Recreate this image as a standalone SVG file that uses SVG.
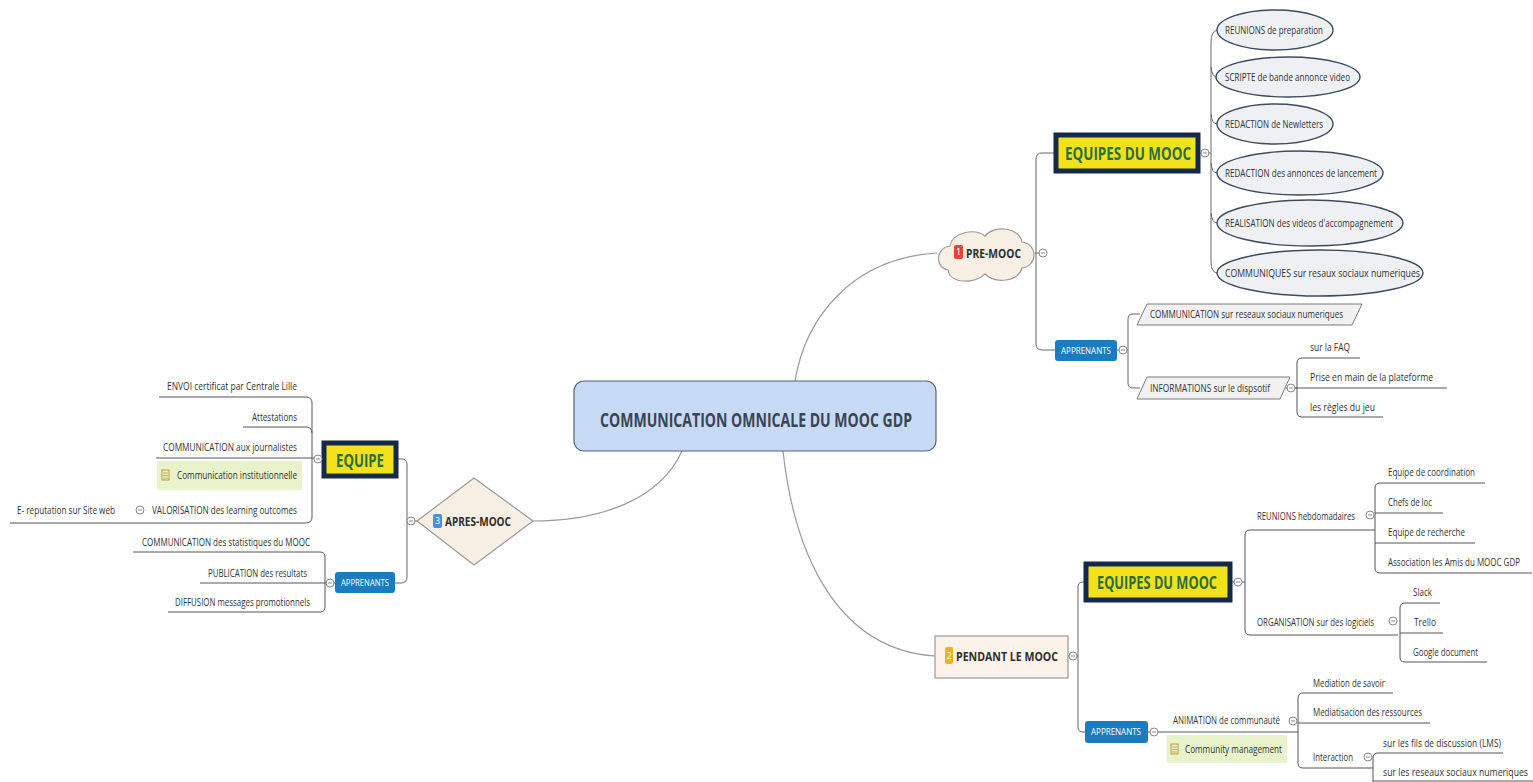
<svg xmlns="http://www.w3.org/2000/svg" width="1533" height="782" viewBox="0 0 1533 782">
<defs>
<style>
.t{font-family:"Open Sans","Liberation Sans",sans-serif;font-size:11.5px;fill:#333;}
.te{text-anchor:end;}
.h{font-family:"Open Sans","Liberation Sans",sans-serif;font-weight:bold;}
.conn{fill:none;stroke:#9a9a9a;stroke-width:1.2;}
.br{fill:none;stroke:#666;stroke-width:1;}
.ul{fill:none;stroke:#555;stroke-width:1;}
.ell{fill:#eef0f3;stroke:#3d4b5c;stroke-width:1.4;}
.par{fill:#f1f1f1;stroke:#7a7a7a;stroke-width:1;}
.yel{fill:#f3e21b;stroke:#15294a;stroke-width:5;}
.yt{fill:#2b6e44;font-size:18px;text-anchor:middle;}
.blue{fill:#1b7cc1;}
.bt{fill:#fff;font-size:9px;text-anchor:middle;font-family:"Open Sans","Liberation Sans",sans-serif;}
.note{fill:#e8f3cc;}
.beige{fill:#f8efe4;stroke:#9a9a9a;stroke-width:1.2;}
.dark{fill:#2e2e2e;font-size:12px;}
.col{fill:#fff;stroke:#888;stroke-width:1;}
</style>
<g id="collapse"><circle class="col" cx="0" cy="0" r="4"/><path d="M-2 0H2" stroke="#888" stroke-width="1"/></g>
<g id="noteicon"><rect x="0" y="0" width="7" height="10" fill="none" stroke="#c89a2e" stroke-width="1"/><path d="M1 3H6M1 5.5H6M1 8H6" stroke="#c89a2e" stroke-width="0.8"/></g>
</defs>
<rect width="1533" height="782" fill="#fff"/>

<g id="connectors">
<path class="conn" d="M795 381 C805 320 850 258 937 253"/>
<path class="conn" d="M682 451 C660 500 600 521 533 521"/>
<path class="conn" d="M783 451 C795 560 840 650 935 656"/>
<path class="br" d="M1054 153 H1042 Q1036 153 1036 159 V344 Q1036 350 1042 350 H1055"/>
<path class="br" d="M1035 253 H1039"/>
<path class="br" d="M1200 153 H1211"/>
<path class="br" d="M1217 30 Q1211 32 1211 42 V262 Q1211 272 1217 273"/>
<path class="br" d="M1211 67 Q1212 77 1217 77 M1211 114 Q1212 124 1217 124 M1211 163 Q1212 173 1217 173 M1211 213 Q1212 223 1217 223"/>
<path class="br" d="M1117 350 H1128"/>
<path class="br" d="M1140 314 H1133 Q1128 314 1128 319 V383 Q1128 388 1133 388 H1140"/>
<path class="br" d="M1282 388 H1297"/>
<path class="ul" d="M1360 358 H1302 Q1297 358 1297 363 V412 Q1297 417 1302 417 H1383"/>
<path class="ul" d="M1295 388 H1447"/>
<path class="ul" d="M159 397 H306 Q312 397 312 403 V517 Q312 523 306 523 H10"/>
<path class="ul" d="M243 427 H306 Q312 427 312 433"/>
<path class="ul" d="M156 458 H322"/>
<path class="br" d="M398 459 H402 Q407 459 407 465 V577 Q407 583 401 583 H395"/>
<path class="br" d="M407 521 H417"/>
<path class="ul" d="M133 552 H320 Q325 552 325 557 V607 Q325 612 320 612 H168"/>
<path class="ul" d="M200 583 H335"/>
<path class="br" d="M1068 656 H1078"/>
<path class="br" d="M1085 582 H1083 Q1078 582 1078 587 V727 Q1078 732 1083 732 H1085"/>
<path class="br" d="M1231 582 H1245"/>
<path class="ul" d="M1375 530 H1250 Q1245 530 1245 535 V630 Q1245 635 1250 635 H1398"/>
<path class="ul" d="M1485 483 H1380 Q1375 483 1375 488 V568 Q1375 573 1380 573 H1532"/>
<path class="ul" d="M1375 513 H1443 M1375 543 H1475"/>
<path class="ul" d="M1440 603 H1405 Q1400 603 1400 608 V657 Q1400 662 1405 662 H1487"/>
<path class="ul" d="M1400 633 H1443"/>
<path class="ul" d="M1148 732 H1298"/>
<path class="ul" d="M1393 693 H1303 Q1298 693 1298 698 V763 Q1298 768 1303 768 H1373"/>
<path class="ul" d="M1298 723 H1430"/>
<path class="ul" d="M1503 753 H1378 Q1373 753 1373 758 V782"/>
<path class="ul" d="M1373 781 H1533"/>
</g>

<g id="center">
<rect x="574" y="381" width="362" height="70" rx="10" fill="#c6daf6" stroke="#55657a" stroke-width="1.2"/>
<text class="h" x="756" y="427" font-size="19" fill="#3b4453" text-anchor="middle" textLength="312" lengthAdjust="spacingAndGlyphs">COMMUNICATION OMNICALE DU  MOOC GDP</text>
</g>

<g id="pre-mooc">
<path class="beige" d="M948 270 C935 268 935 248 950 246 C952 232 975 228 985 236 C995 224 1020 228 1022 242 C1038 244 1038 266 1022 268 C1018 282 995 284 985 274 C975 284 950 284 948 270 Z"/>
<rect x="954" y="245" width="9" height="14" rx="2" fill="#e0463c"/>
<text class="bt" x="958.5" y="255" font-size="8">1</text>
<text class="h dark" x="966" y="258" textLength="55" lengthAdjust="spacingAndGlyphs">PRE-MOOC</text>
<use href="#collapse" x="1043" y="253"/>
</g>

<g id="equipes-pre">
<rect class="yel" x="1056" y="135" width="142" height="36"/>
<text class="h yt" x="1128" y="160" textLength="126" lengthAdjust="spacingAndGlyphs">EQUIPES DU MOOC</text>
<use href="#collapse" x="1205" y="153"/>
</g>

<g id="ellipses-pre">
<ellipse class="ell" cx="1275" cy="30" rx="58" ry="20"/>
<text class="t" x="1225" y="34" textLength="98" lengthAdjust="spacingAndGlyphs">REUNIONS de  preparation</text>
<ellipse class="ell" cx="1288" cy="77" rx="72" ry="20"/>
<text class="t" x="1225" y="81" textLength="125" lengthAdjust="spacingAndGlyphs">SCRIPTE de bande annonce  video</text>
<ellipse class="ell" cx="1275" cy="124" rx="58" ry="20"/>
<text class="t" x="1225" y="128" textLength="98" lengthAdjust="spacingAndGlyphs">REDACTION de Newletters</text>
<ellipse class="ell" cx="1300" cy="173" rx="83" ry="22"/>
<text class="t" x="1225" y="177" textLength="152" lengthAdjust="spacingAndGlyphs">REDACTION des annonces de  lancement</text>
<ellipse class="ell" cx="1310" cy="223" rx="93" ry="23"/>
<text class="t" x="1225" y="227" textLength="168" lengthAdjust="spacingAndGlyphs">REALISATION des videos d'accompagnement</text>
<ellipse class="ell" cx="1320" cy="273" rx="103" ry="23"/>
<text class="t" x="1225" y="277" textLength="195" lengthAdjust="spacingAndGlyphs">COMMUNIQUES  sur resaux sociaux numeriques</text>
</g>

<g id="apprenants-pre">
<rect class="blue" x="1055" y="340" width="62" height="21" rx="3"/>
<text class="bt" x="1086" y="354" textLength="50" lengthAdjust="spacingAndGlyphs">APPRENANTS</text>
<use href="#collapse" x="1123" y="350"/>
<path class="par" d="M1147 304 H1362 L1352 325 H1137 Z"/>
<text class="t" x="1150" y="318" textLength="193" lengthAdjust="spacingAndGlyphs">COMMUNICATION sur  reseaux sociaux  numeriques</text>
<path class="par" d="M1147 377 H1290 L1280 399 H1137 Z"/>
<text class="t" x="1150" y="392" textLength="120" lengthAdjust="spacingAndGlyphs">INFORMATIONS sur  le dispsotif</text>
<use href="#collapse" x="1291" y="388"/>
<text class="t" x="1310" y="351" textLength="40" lengthAdjust="spacingAndGlyphs">sur  la FAQ</text>
<text class="t" x="1310" y="381" textLength="123" lengthAdjust="spacingAndGlyphs">Prise en  main  de  la  plateforme</text>
<text class="t" x="1310" y="411" textLength="65" lengthAdjust="spacingAndGlyphs">les règles du  jeu</text>
</g>

<g id="apres-mooc">
<path class="beige" d="M474 478 L533 521 L474 565 L417 521 Z"/>
<rect x="433" y="514" width="9" height="14" rx="2" fill="#4a90d9"/>
<text class="bt" x="437.5" y="524" font-size="8">3</text>
<text class="h dark" x="445" y="526" textLength="66" lengthAdjust="spacingAndGlyphs">APRES-MOOC</text>
<use href="#collapse" x="411" y="521"/>
</g>

<g id="equipe-apres">
<rect class="yel" x="324" y="443" width="72" height="33"/>
<text class="h yt" x="360" y="467" font-size="20" textLength="48" lengthAdjust="spacingAndGlyphs">EQUIPE</text>
<use href="#collapse" x="318" y="459"/>
<text class="t te" x="297" y="390" textLength="130" lengthAdjust="spacingAndGlyphs">ENVOI certificat  par  Centrale Lille</text>
<text class="t te" x="297" y="421" textLength="45" lengthAdjust="spacingAndGlyphs">Attestations</text>
<text class="t te" x="297" y="451" textLength="134" lengthAdjust="spacingAndGlyphs">COMMUNICATION  aux  journalistes</text>
<rect class="note" x="157" y="461" width="145" height="29"/>
<use href="#noteicon" x="162" y="470"/>
<text class="t" x="177" y="479" font-size="10" textLength="120" lengthAdjust="spacingAndGlyphs">Communication  institutionnelle</text>
<text class="t te" x="297" y="514" textLength="145" lengthAdjust="spacingAndGlyphs">VALORISATION  des  learning outcomes</text>
<use href="#collapse" x="140" y="510"/>
<text class="t" x="17" y="514" textLength="98" lengthAdjust="spacingAndGlyphs">E- reputation sur Site web</text>
</g>

<g id="apprenants-apres">
<rect class="blue" x="335" y="572" width="60" height="21" rx="3"/>
<text class="bt" x="365" y="586" textLength="48" lengthAdjust="spacingAndGlyphs">APPRENANTS</text>
<use href="#collapse" x="330" y="583"/>
<text class="t te" x="310" y="546" textLength="168" lengthAdjust="spacingAndGlyphs">COMMUNICATION des statistiques du  MOOC</text>
<text class="t te" x="307" y="577" textLength="99" lengthAdjust="spacingAndGlyphs">PUBLICATION des resultats</text>
<text class="t te" x="310" y="606" textLength="135" lengthAdjust="spacingAndGlyphs">DIFFUSION messages  promotionnels</text>
</g>

<g id="pendant">
<rect x="935" y="636" width="133" height="42" fill="#fbf3ea" stroke="#9a9a9a" stroke-width="1.2"/>
<rect x="945" y="647" width="8" height="17" rx="2" fill="#f0b020"/>
<text class="bt" x="949" y="659" font-size="8">2</text>
<text class="h dark" x="956" y="661" textLength="102" lengthAdjust="spacingAndGlyphs">PENDANT  LE  MOOC</text>
<use href="#collapse" x="1073" y="656"/>
</g>

<g id="equipes-pendant">
<rect class="yel" x="1086" y="564" width="144" height="36"/>
<text class="h yt" x="1157" y="589" textLength="120" lengthAdjust="spacingAndGlyphs">EQUIPES DU  MOOC</text>
<use href="#collapse" x="1238" y="582"/>
<text class="t" x="1257" y="520" textLength="98" lengthAdjust="spacingAndGlyphs">REUNIONS hebdomadaires</text>
<use href="#collapse" x="1370" y="515"/>
<text class="t" x="1388" y="476" textLength="87" lengthAdjust="spacingAndGlyphs">Equipe de coordination</text>
<text class="t" x="1388" y="506" textLength="44" lengthAdjust="spacingAndGlyphs">Chefs de  loc</text>
<text class="t" x="1388" y="536" textLength="77" lengthAdjust="spacingAndGlyphs">Equipe de recherche</text>
<text class="t" x="1388" y="566" textLength="132" lengthAdjust="spacingAndGlyphs">Association les Amis du  MOOC GDP</text>
<text class="t" x="1257" y="626" textLength="117" lengthAdjust="spacingAndGlyphs">ORGANISATION sur  des logiciels</text>
<use href="#collapse" x="1393" y="621"/>
<text class="t" x="1413" y="596" textLength="19" lengthAdjust="spacingAndGlyphs">Slack</text>
<text class="t" x="1414" y="626" textLength="22" lengthAdjust="spacingAndGlyphs">Trello</text>
<text class="t" x="1413" y="656" textLength="65" lengthAdjust="spacingAndGlyphs">Google  document</text>
</g>

<g id="apprenants-pendant">
<rect class="blue" x="1085" y="721" width="63" height="22" rx="3"/>
<text class="bt" x="1116" y="735" textLength="50" lengthAdjust="spacingAndGlyphs">APPRENANTS</text>
<use href="#collapse" x="1154" y="732"/>
<text class="t" x="1173" y="724" textLength="107" lengthAdjust="spacingAndGlyphs">ANIMATION de communauté</text>
<use href="#collapse" x="1293" y="721"/>
<rect class="note" x="1167" y="735" width="120" height="28"/>
<use href="#noteicon" x="1171" y="744"/>
<text class="t" x="1185" y="753" font-size="10" textLength="97" lengthAdjust="spacingAndGlyphs">Community  management</text>
<text class="t" x="1313" y="687" textLength="72" lengthAdjust="spacingAndGlyphs">Mediation de savoir</text>
<text class="t" x="1313" y="716" textLength="109" lengthAdjust="spacingAndGlyphs">Mediatisacion des ressources</text>
<text class="t" x="1313" y="761" textLength="40" lengthAdjust="spacingAndGlyphs">Interaction</text>
<use href="#collapse" x="1368" y="757"/>
<text class="t" x="1383" y="747" textLength="118" lengthAdjust="spacingAndGlyphs">sur   les fils de discussion (LMS)</text>
<text class="t" x="1383" y="776" textLength="145" lengthAdjust="spacingAndGlyphs">sur  les  reseaux sociaux  numeriques</text>
</g>
</svg>
